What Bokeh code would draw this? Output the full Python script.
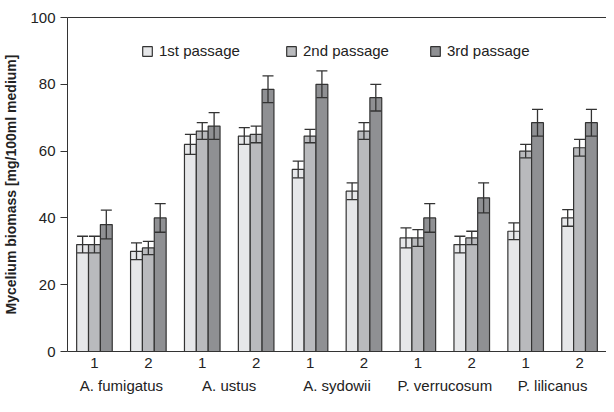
from bokeh.plotting import figure
from bokeh.models import FactorRange, ColumnDataSource, Whisker, LinearAxis, Legend, LegendItem, FixedTicker
from bokeh.transform import dodge
from bokeh.embed import file_html
from bokeh.resources import INLINE

species = ["A. fumigatus", "A. ustus", "A. sydowii", "P. verrucosum", "P. lilicanus"]
strains = ["1", "2"]
passages = ["1st passage", "2nd passage", "3rd passage"]

p1_vals = [32, 30, 62, 64.5, 54.5, 48, 34, 32, 36, 40]
p2_vals = [32, 31, 66, 65, 64.5, 66, 34, 34, 60, 61]
p3_vals = [38, 40, 67.5, 78.5, 80, 76, 40, 46, 68.5, 68.5]
p1_err = [2.5, 2.5, 3, 2.5, 2.5, 2.5, 3, 2.5, 2.5, 2.5]
p2_err = [2.5, 2, 2.5, 2.5, 2, 2.5, 2.5, 2, 2, 2.5]
p3_err = [4.3, 4.3, 4, 4, 4, 4, 4.3, 4.5, 4, 4]

colors = ["#e6e7e9", "#b9babd", "#8f9093"]
edge = "#333333"
font = "Liberation Sans"

factors = [(s, n) for s in species for n in strains]

p = figure(x_range=FactorRange(*factors, factor_padding=0, group_padding=0, subgroup_padding=0, range_padding=0),
           y_range=(0, 100), width=606, height=396, output_backend="svg", toolbar_location=None,
           min_border_left=59, min_border_right=0, min_border_top=17, min_border_bottom=0)

offsets = [-0.22, 0.0, 0.22]
vals = [p1_vals, p2_vals, p3_vals]
errs = [p1_err, p2_err, p3_err]
items = []
for i in range(3):
    src = ColumnDataSource(dict(x=factors, top=vals[i],
                                upper=[v + e for v, e in zip(vals[i], errs[i])],
                                lower=[v - e for v, e in zip(vals[i], errs[i])]))
    r = p.vbar(x=dodge("x", offsets[i], range=p.x_range), top="top", width=0.22, source=src,
               fill_color=colors[i], line_color=edge, line_width=1.2)
    w = Whisker(base=dodge("x", offsets[i], range=p.x_range), upper="upper", lower="lower", source=src,
                line_color=edge, line_width=1.3, level="overlay")
    w.upper_head.size = 11
    w.lower_head.size = 11
    w.upper_head.line_color = edge
    w.lower_head.line_color = edge
    w.upper_head.line_width = 1.3
    w.lower_head.line_width = 1.3
    p.add_layout(w)
    items.append(LegendItem(label=passages[i], renderers=[r]))

legend = Legend(items=items, orientation="horizontal", location=(74, 292),
                border_line_color=None, background_fill_alpha=0,
                label_text_font=font, label_text_font_size="15px", label_text_color="#222222",
                glyph_width=12, glyph_height=12, label_standoff=6, label_width=112, spacing=14,
                padding=4, margin=0)
p.add_layout(legend, "center")

p.xgrid.grid_line_color = None
p.ygrid.grid_line_color = None
p.outline_line_color = None

ya = p.yaxis[0]
ya.ticker = FixedTicker(ticks=[0, 20, 40, 60, 80, 100])
ya.axis_label = "Mycelium biomass [mg/100ml medium]"
ya.axis_label_text_font = font
ya.axis_label_text_font_style = "bold"
ya.axis_label_text_font_size = "14px"
ya.axis_label_text_color = "#222222"
ya.axis_label_standoff = 8
ya.major_label_text_font = font
ya.major_label_text_font_size = "15px"
ya.major_label_text_color = "#222222"
ya.axis_line_color = edge
ya.major_tick_line_color = edge
ya.major_tick_out = 7
ya.major_tick_in = 0
ya.minor_tick_line_color = None

xa = p.xaxis[0]
xa.axis_line_color = edge
xa.major_tick_line_color = None
xa.major_tick_out = 0
xa.major_label_text_font = font
xa.major_label_text_font_size = "15px"
xa.major_label_text_color = "#222222"
xa.major_label_standoff = 6
xa.group_text_font = font
xa.group_text_font_size = "15px"
xa.group_text_font_style = "normal"
xa.group_text_color = "#222222"
xa.separator_line_color = None

top = LinearAxis(ticker=FixedTicker(ticks=[]), axis_line_color=edge, major_tick_line_color=None,
                 minor_tick_line_color=None, major_label_text_font_size="0px")
p.add_layout(top, "above")

open("out.html", "w").write(file_html(p, INLINE))
